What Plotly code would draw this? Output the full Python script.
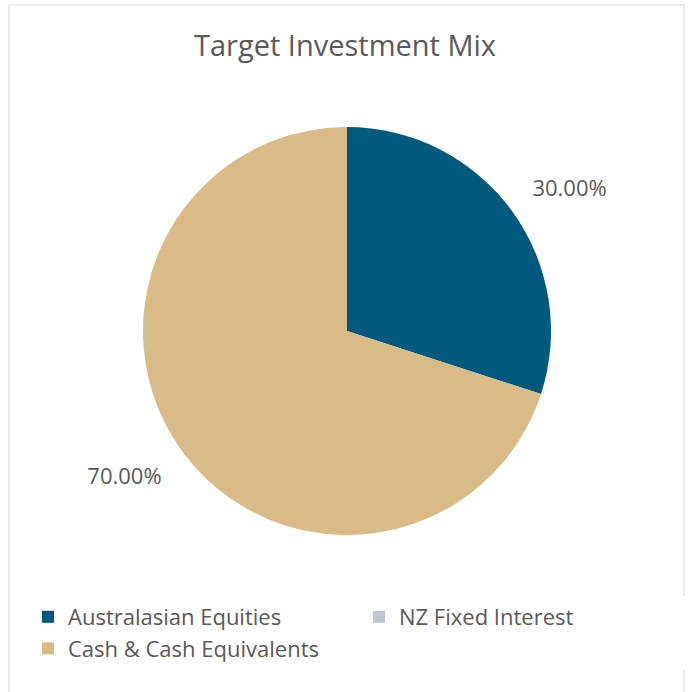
import plotly.graph_objects as go

# data
labels = ["Australasian Equities", "NZ Fixed Interest", "Cash & Cash Equivalents"]
values = [30, 0, 70]
colors = ["#005A7D", "#BFC6CD", "#D9BB88"]

W, H = 690, 692
NB = "\u00a0"

# outside labels, padded a little so they sit further from the pie edge
templates = [
    NB + "%{percent:.2%}<br>" + NB,
    "",
    NB + "<br>%{percent:.2%}" + NB,
]

fig = go.Figure()
fig.add_trace(go.Pie(
    labels=labels,
    values=values,
    marker=dict(colors=colors, line=dict(width=0)),
    sort=False,
    direction="clockwise",
    rotation=0,
    textposition="outside",
    texttemplate=templates,
    textfont=dict(size=22, color="#595959", family="Open Sans"),
    domain=dict(x=[143 / W, 551 / W], y=[(H - 535) / H, (H - 127) / H]),
    hoverinfo="label+percent",
))

fig.update_layout(
    width=W, height=H,
    margin=dict(l=0, r=0, t=0, b=0),
    paper_bgcolor="white",
    font=dict(family="Open Sans", color="#595959"),
    title=dict(text="Target Investment Mix", x=0.5, xanchor="center",
               y=1 - 46 / H, yanchor="middle",
               font=dict(size=29, color="#595959")),
    legend=dict(orientation="h", x=43 / W, xanchor="left",
                y=(H - 596) / H, yanchor="top",
                font=dict(size=22, color="#595959"),
                entrywidth=286, traceorder="normal"),
    shapes=[dict(type="rect", xref="paper", yref="paper",
                 x0=9 / W, x1=684 / W, y0=-0.01, y1=1 - 5 / H,
                 line=dict(color="#D9D9D9", width=1))],
)

fig.write_html("out.html", config={"displayModeBar": False},
               post_script="document.body.style.margin='0';")
